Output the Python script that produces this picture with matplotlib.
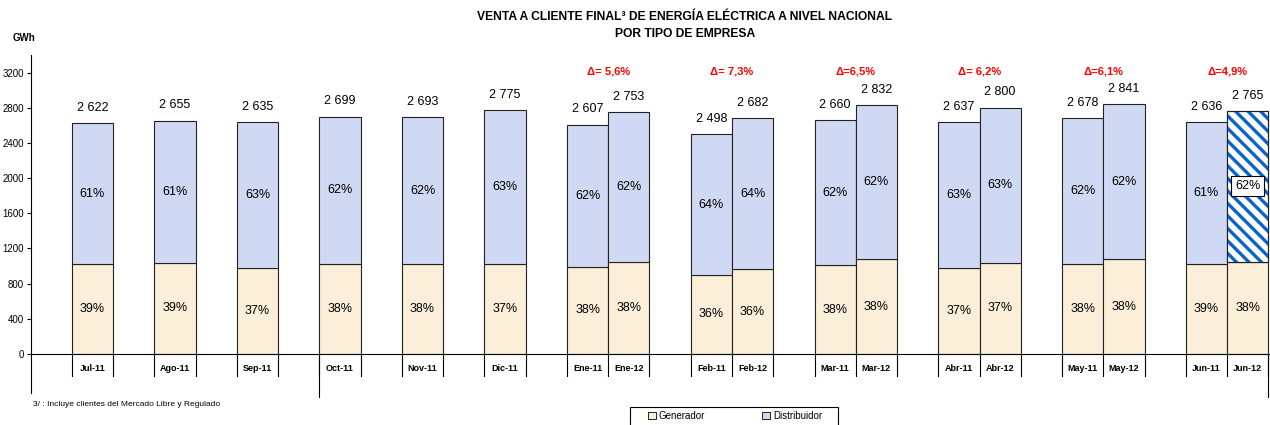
import matplotlib
matplotlib.use("Agg")
import matplotlib.pyplot as plt
import matplotlib.transforms as mtransforms
from matplotlib.patches import Patch, Rectangle

plt.rcParams["font.family"] = ["Liberation Sans", "DejaVu Sans"]

# single months Jul-11 .. Dic-11
SINGLE_LABELS = ["Jul-11", "Ago-11", "Sep-11", "Oct-11", "Nov-11", "Dic-11"]
SINGLE_TOTAL = [2622, 2655, 2635, 2699, 2693, 2775]
SINGLE_GEN = [1023, 1035, 975, 1026, 1023, 1027]
SINGLE_GEN_PCT = ["39%", "39%", "37%", "38%", "38%", "37%"]
SINGLE_DIST_PCT = ["61%", "61%", "63%", "62%", "62%", "63%"]

# paired months (2011 vs 2012)
PAIR_LABELS_11 = ["Ene-11", "Feb-11", "Mar-11", "Abr-11", "May-11", "Jun-11"]
PAIR_LABELS_12 = ["Ene-12", "Feb-12", "Mar-12", "Abr-12", "May-12", "Jun-12"]
TOTAL_11 = [2607, 2498, 2660, 2637, 2678, 2636]
TOTAL_12 = [2753, 2682, 2832, 2800, 2841, 2765]
GEN_11 = [991, 899, 1011, 976, 1018, 1028]
GEN_12 = [1046, 966, 1076, 1036, 1080, 1051]
GEN_PCT_11 = ["38%", "36%", "38%", "37%", "38%", "39%"]
GEN_PCT_12 = ["38%", "36%", "38%", "37%", "38%", "38%"]
DIST_PCT_11 = ["62%", "64%", "62%", "63%", "62%", "61%"]
DIST_PCT_12 = ["62%", "64%", "62%", "63%", "62%", "62%"]
DELTAS = ["\u0394= 5,6%", "\u0394= 7,3%", "\u0394=6,5%", "\u0394= 6,2%", "\u0394=6,1%", "\u0394=4,9%"]

GEN_COLOR = "#FCEFD9"
DIST_COLOR = "#D0D9F4"
STRIPE_COLOR = "#0A64C8"
W = 0.5


def fmt(v):
    return f"{v:,}".replace(",", " ")


def stripe_bar(ax, rect, period=12.5, lw=2.4):
    # diagonal stripes (top-left to bottom-right) clipped to the bar
    (x0, y0), (x1, y1) = ax.transData.transform([(rect.get_x(), rect.get_y()),
                                                 (rect.get_x() + rect.get_width(),
                                                  rect.get_y() + rect.get_height())])
    span = (x1 - x0) + (y1 - y0)
    t = -span
    while t < span:
        ln, = ax.plot([x0 + t, x0 + t + span], [y1, y1 - span],
                      transform=mtransforms.IdentityTransform(),
                      color=STRIPE_COLOR, lw=lw, solid_capstyle="butt", zorder=2.5)
        ln.set_clip_path(rect)
        t += period


def main():
    fig = plt.figure(figsize=(12.7, 4.25), dpi=100)
    ax = fig.add_axes([31 / 1270, 71 / 425, 1239 / 1270, 299 / 425])
    ax.set_xlim(-0.745, 14.27)
    ax.set_ylim(0, 3400)

    bars = []
    for i in range(len(SINGLE_LABELS)):
        bars.append((i, SINGLE_TOTAL[i], SINGLE_GEN[i], SINGLE_GEN_PCT[i],
                     SINGLE_DIST_PCT[i], SINGLE_LABELS[i], False))
    centers = []
    for k in range(len(PAIR_LABELS_11)):
        c = 6.25 + 1.5 * k
        centers.append(c)
        bars.append((c - W / 2, TOTAL_11[k], GEN_11[k], GEN_PCT_11[k],
                     DIST_PCT_11[k], PAIR_LABELS_11[k], False))
        bars.append((c + W / 2, TOTAL_12[k], GEN_12[k], GEN_PCT_12[k],
                     DIST_PCT_12[k], PAIR_LABELS_12[k], k == len(PAIR_LABELS_11) - 1))

    trans = mtransforms.blended_transform_factory(ax.transData, ax.transAxes)
    edges = set()
    for x, tot, gen, gp, dp, lab, special in bars:
        ax.bar(x, gen, W, color=GEN_COLOR, edgecolor="#222222", lw=0.8, zorder=2)
        if special:
            top = ax.bar(x, tot - gen, W, bottom=gen, color="white",
                         edgecolor="#222222", lw=0.8, zorder=2)[0]
            stripe_bar(ax, top)
            ax.bar(x, tot - gen, W, bottom=gen, color="none", edgecolor="#222222",
                   lw=0.8, zorder=3)
            ax.text(x, gen + (tot - gen) / 2, dp, ha="center", va="center", fontsize=9,
                    zorder=4, bbox=dict(boxstyle="square,pad=0.3", fc="white",
                                        ec="black", lw=0.8))
        else:
            ax.bar(x, tot - gen, W, bottom=gen, color=DIST_COLOR, edgecolor="#222222",
                   lw=0.8, zorder=2)
            ax.text(x, gen + (tot - gen) / 2, dp, ha="center", va="center", fontsize=9)
        ax.text(x, gen / 2, gp, ha="center", va="center", fontsize=9)
        ax.annotate(fmt(tot), (x, tot), xytext=(0, 11), textcoords="offset points",
                    ha="center", va="center", fontsize=9)
        ax.text(x, -0.05, lab, transform=trans, ha="center", va="center",
                fontsize=6.5, fontweight="bold")
        edges.add(round(x - W / 2, 3))
        edges.add(round(x + W / 2, 3))

    for e in sorted(edges):
        ax.plot([e, e], [0, -0.074], transform=trans, color="black", lw=0.8,
                clip_on=False)
    # longer group separators
    for e in [3 - W / 2, centers[-1] + W]:
        ax.plot([e, e], [0, -0.144], transform=trans, color="black", lw=0.8,
                clip_on=False)
    ax.plot([0, 0], [0, -0.13], transform=ax.transAxes, color="black", lw=0.8,
            clip_on=False)

    for c, d in zip(centers, DELTAS):
        ax.text(c, 0.946, d, transform=trans, ha="center", va="center",
                fontsize=8, fontweight="bold", color="#FF0000")

    ax.set_yticks(range(0, 3201, 400))
    ax.tick_params(axis="y", labelsize=7, length=3, width=0.8, pad=2)
    ax.set_xticks([])
    for s in ["top", "right"]:
        ax.spines[s].set_visible(False)
    ax.spines["left"].set_linewidth(0.8)
    ax.spines["bottom"].set_linewidth(0.8)

    fig.text(685 / 1270, 1 - 17 / 425, "VENTA A CLIENTE FINAL\u00b3 DE ENERGÍA ELÉCTRICA A NIVEL NACIONAL",
             ha="center", va="center", fontsize=8.7, fontweight="bold")
    fig.text(685 / 1270, 1 - 34 / 425, "POR TIPO DE EMPRESA",
             ha="center", va="center", fontsize=8.7, fontweight="bold")
    fig.text(24 / 1270, 1 - 38 / 425, "GWh", ha="center", va="center",
             fontsize=7, fontweight="bold")
    fig.text(33 / 1270, 1 - 405 / 425, "3/ : Incluye clientes del Mercado Libre y Regulado",
             ha="left", va="center", fontsize=6)

    # legend box (runs off the bottom edge like the original)
    fig.patches.append(Rectangle((630 / 1270, -0.02), 208 / 1270, 1 - 407 / 425 + 0.02,
                                 transform=fig.transFigure, fill=False,
                                 ec="black", lw=0.8))
    handles = [Patch(facecolor=GEN_COLOR, edgecolor="black", lw=0.6, label="Generador"),
               Patch(facecolor=DIST_COLOR, edgecolor="black", lw=0.6, label="Distribuidor")]
    fig.legend(handles=handles, loc="center left", ncol=2,
               bbox_to_anchor=(648 / 1270, 1 - 416 / 425, 174 / 1270, 0.0),
               mode="expand", fontsize=7, frameon=False,
               handlelength=0.8, handleheight=0.8, handletextpad=0.3,
               borderpad=0, borderaxespad=0)

    fig.savefig("out.png", dpi=100)


if __name__ == "__main__":
    main()
